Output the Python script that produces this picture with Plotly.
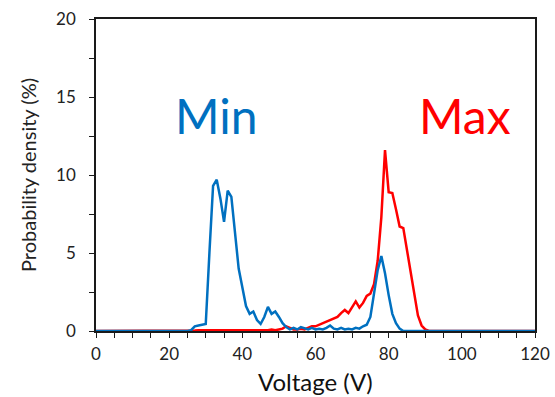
import plotly.graph_objects as go

# Voltage grid (V), 1 V bins
voltage = list(range(0, 121))

# Probability density (%) of the minimum voltage
p_min = (
    [0.0] * 26
    + [0.05, 0.3, 0.35, 0.4, 0.45,            # 26-30
       5.0, 9.3, 9.7, 8.5, 7.0,               # 31-35
       9.0, 8.6, 6.5, 4.0, 2.8,               # 36-40
       1.6, 1.1, 1.25, 0.7, 0.45,             # 41-45
       0.9, 1.55, 1.1, 1.25, 0.9,             # 46-50
       0.5, 0.25, 0.1, 0.2, 0.1,              # 51-55
       0.25, 0.15, 0.1, 0.2, 0.1,             # 56-60
       0.15, 0.1, 0.2, 0.35, 0.15,            # 61-65
       0.1, 0.2, 0.1, 0.15, 0.1,              # 66-70
       0.2, 0.15, 0.3, 0.4, 0.9,              # 71-75
       2.4, 3.9, 4.8, 3.7, 2.3,               # 76-80
       1.1, 0.5, 0.15]                        # 81-83
    + [0.0] * 37                              # 84-120
)

# Probability density (%) of the maximum voltage
p_max = (
    [0.0] * 27
    + [0.03, 0.05, 0.05, 0.05, 0.05,          # 27-31
       0.05, 0.05, 0.05, 0.05, 0.05,          # 32-36
       0.05, 0.05, 0.05, 0.05, 0.05,          # 37-41
       0.05, 0.05, 0.05, 0.05, 0.05,          # 42-46
       0.05, 0.1, 0.05, 0.1, 0.15,            # 47-51
       0.3, 0.2, 0.1, 0.1, 0.15,              # 52-56
       0.1, 0.2, 0.3, 0.3, 0.4,               # 57-61
       0.5, 0.6, 0.65, 0.8, 0.9,              # 62-66
       1.15, 1.35, 1.15, 1.5, 1.9,            # 67-71
       1.5, 1.8, 2.25, 2.4, 3.0,              # 72-76
       4.5, 7.3, 11.6, 8.9, 8.85,             # 77-81
       7.8, 6.7, 6.6, 5.2, 3.7,               # 82-86
       2.2, 1.0, 0.35, 0.1]                   # 87-90
    + [0.0] * 30                              # 91-120
)

BLUE = "#0070C0"
RED = "#FF0000"
FONT = "Lato"
INK = "#1a1a1a"

W, H = 555, 397
MARGIN = dict(l=96, r=20, t=19, b=66)
PLOT_H = H - MARGIN["t"] - MARGIN["b"]

fig = go.Figure()
fig.add_trace(go.Scatter(x=voltage, y=p_max, mode="lines",
                         line=dict(color=RED, width=2.5), name="Max"))
fig.add_trace(go.Scatter(x=voltage, y=p_min, mode="lines",
                         line=dict(color=BLUE, width=2.5), name="Min"))

fig.add_annotation(x=33, y=13.8, text="Min", showarrow=False,
                   font=dict(family=FONT, size=48, color=BLUE))
fig.add_annotation(x=101, y=13.8, text="Max", showarrow=False,
                   font=dict(family=FONT, size=48, color=RED))

# x-axis title, sitting on the bottom edge of the figure
fig.add_annotation(xref="paper", yref="paper", x=0.5,
                   y=-MARGIN["b"] / PLOT_H, yanchor="bottom", borderpad=0,
                   text="Voltage (V)", showarrow=False,
                   font=dict(family=FONT, size=24, color="#111"))

axis_common = dict(
    showline=True, linecolor=INK, linewidth=1.5, mirror=True,
    showgrid=False, zeroline=False, automargin=False,
    ticks="outside", ticklen=5, tickwidth=1.2, tickcolor=INK,
    tickfont=dict(family=FONT, size=17, color="#222"),
)

fig.update_xaxes(range=[0, 120], dtick=20, tick0=0, ticklabelstandoff=2,
                 minor=dict(dtick=5, ticks="outside", ticklen=5,
                            tickwidth=1.2, tickcolor=INK),
                 **axis_common)
fig.update_yaxes(range=[0, 20], dtick=5, tick0=0, ticklabelstandoff=10,
                 minor=dict(dtick=2.5, ticks="outside", ticklen=5,
                            tickwidth=1.2, tickcolor=INK),
                 title=dict(text="Probability density (%)", standoff=14,
                            font=dict(family=FONT, size=20, color="#222")),
                 **axis_common)

fig.update_layout(
    width=W, height=H,
    margin=MARGIN,
    paper_bgcolor="white", plot_bgcolor="white",
    showlegend=False,
)

fig.write_html("out.html")
